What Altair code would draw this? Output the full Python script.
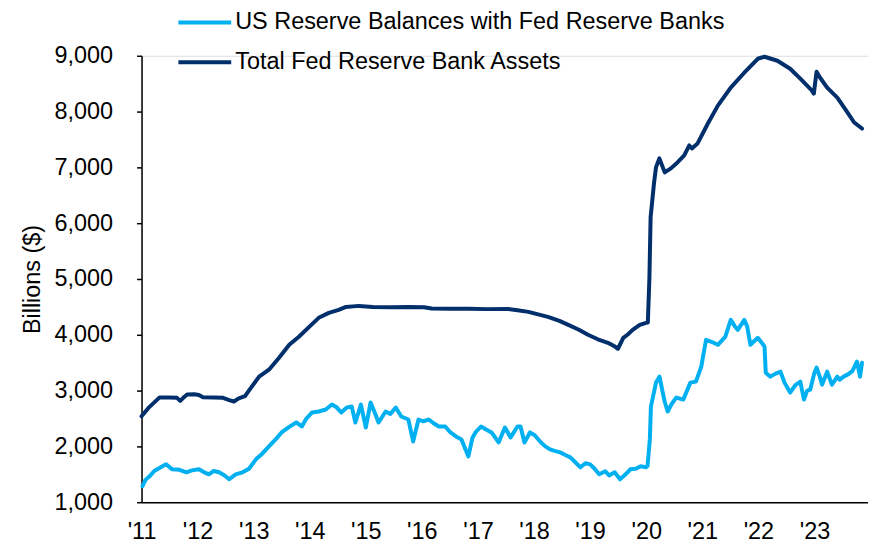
import altair as alt
import pandas as pd

# US Reserve Balances with Fed Reserve Banks (billions $)
res_dates = ["2011-01-07","2011-01-27","2011-02-22","2011-03-25","2011-05-17","2011-06-10","2011-07-20","2011-09-05","2011-10-20","2011-11-25",
             "2012-01-10","2012-02-10","2012-03-15","2012-04-15","2012-05-20","2012-06-25","2012-07-25","2012-09-05","2012-10-20","2012-12-01",
             "2013-01-15","2013-02-25","2013-04-10","2013-05-25","2013-07-01","2013-08-20","2013-10-05","2013-11-10","2013-12-10",
             "2014-01-15","2014-03-01","2014-04-15","2014-05-25","2014-06-25","2014-07-25","2014-09-01","2014-10-01","2014-10-25","2014-11-30",
             "2015-01-01","2015-02-01","2015-03-01","2015-03-25","2015-05-10","2015-06-10","2015-07-15","2015-08-20","2015-10-05","2015-11-05","2015-12-10",
             "2016-01-10","2016-02-15","2016-03-15","2016-04-20","2016-06-01","2016-07-05","2016-08-10","2016-09-15","2016-10-30","2016-11-25","2016-12-15",
             "2017-01-20","2017-02-25","2017-03-30","2017-05-15","2017-06-25","2017-08-01","2017-09-15","2017-10-05","2017-10-30","2017-12-05",
             "2018-01-05","2018-02-15","2018-03-15","2018-04-15","2018-05-15","2018-06-20","2018-07-20","2018-08-25","2018-09-25","2018-10-30","2018-12-01",
             "2019-01-01","2019-01-30","2019-03-01","2019-04-10","2019-05-05","2019-06-10","2019-07-15","2019-08-20","2019-09-20","2019-10-25","2019-11-25","2019-12-31",
             "2020-01-10","2020-01-25","2020-02-01","2020-03-05","2020-03-28","2020-04-18","2020-05-01","2020-05-20","2020-06-15","2020-07-15","2020-08-30","2020-10-15","2020-11-20","2020-12-25",
             "2021-01-25","2021-03-01","2021-04-12","2021-05-30","2021-07-05","2021-08-01","2021-08-20","2021-10-01","2021-10-20","2021-11-10","2021-12-28",
             "2022-01-25","2022-02-10","2022-02-18","2022-03-20","2022-04-20","2022-05-25","2022-06-20","2022-07-27","2022-08-30","2022-10-01","2022-10-25","2022-11-15","2022-12-05","2022-12-30",
             "2023-01-15","2023-02-05","2023-02-20","2023-03-25","2023-04-25","2023-05-30","2023-06-15","2023-07-10","2023-08-05","2023-09-05","2023-10-05","2023-10-25","2023-11-07"]
res_values = [1286,1400,1464,1560,1643,1680,1589,1580,1536,1570,
              1589,1540,1500,1560,1536,1480,1411,1500,1536,1600,
              1768,1870,2000,2130,2250,2350,2429,2357,2500,
              2607,2625,2661,2750,2700,2607,2700,2714,2429,2750,
              2339,2786,2600,2429,2625,2580,2696,2536,2482,2089,2482,
              2450,2482,2420,2357,2357,2250,2179,2125,1821,2150,2250,
              2357,2300,2250,2071,2339,2161,2357,2357,2071,2250,
              2200,2071,2000,1946,1920,1893,1850,1804,1720,1625,1700,
              1679,1600,1500,1554,1480,1536,1411,1500,1589,1600,1643,1625,
              1650,2125,2714,3143,3250,2964,2800,2625,2760,2875,2839,3143,3161,3429,
              3911,3875,3821,3964,4268,4150,4089,4268,4150,3821,3946,
              3850,3786,3321,3250,3300,3339,3143,2964,3100,3161,2839,3000,3018,3300,
              3411,3250,3107,3339,3107,3250,3196,3250,3286,3350,3518,3250,3500]

# Total Fed Reserve Bank Assets (billions $)
tot_dates = ["2011-01-01","2011-02-15","2011-04-27","2011-07-01","2011-08-20","2011-09-10","2011-09-30","2011-10-25","2011-12-10",
             "2012-01-10","2012-02-05","2012-04-15","2012-06-15","2012-07-25","2012-08-25","2012-09-25","2012-11-05","2012-12-05",
             "2013-02-05","2013-04-10","2013-06-15","2013-08-20","2013-10-22","2013-12-28",
             "2014-02-28","2014-05-05","2014-07-08","2014-08-25","2014-11-17",
             "2015-02-15","2015-06-15","2015-10-01","2016-01-15","2016-03-05","2016-07-01","2016-11-01",
             "2017-03-01","2017-07-15","2017-09-15","2017-11-25",
             "2018-04-01","2018-06-15","2018-08-12","2018-10-20","2018-12-18",
             "2019-02-20","2019-04-27","2019-06-05","2019-07-01","2019-08-05","2019-09-05","2019-10-05","2019-11-20","2019-12-31",
             "2020-01-12","2020-01-22","2020-01-30","2020-02-21","2020-03-05","2020-03-27","2020-05-01","2020-06-10","2020-07-23","2020-09-05","2020-10-08","2020-10-25","2020-12-01",
             "2021-02-06","2021-04-12","2021-07-05","2021-10-01","2021-12-28",
             "2022-02-10","2022-05-05","2022-07-27","2022-10-01","2022-12-16","2022-12-28",
             "2023-01-15","2023-02-06","2023-03-25","2023-05-30","2023-08-05","2023-09-17","2023-11-07"]
tot_values = [2540,2690,2875,2875,2870,2815,2870,2930,2935,
              2920,2880,2875,2870,2830,2805,2860,2900,3018,
              3250,3375,3590,3820,3964,4143,
              4304,4393,4446,4500,4518,
              4500,4495,4500,4495,4470,4465,4465,
              4460,4462,4440,4411,
              4321,4250,4179,4090,4000,
              3920,3857,3800,3750,3946,4010,4089,4179,4214,
              4220,5000,6107,6714,7000,7161,6911,6982,7089,7214,7393,7340,7429,
              7786,8107,8429,8696,8946,
              8982,8911,8768,8589,8375,8321,
              8714,8610,8429,8250,7982,7804,7696]

series_names = ["US Reserve Balances with Fed Reserve Banks", "Total Fed Reserve Bank Assets"]
series_colors = ["#00B0F0", "#002F6C"]
year_ticks = [f"{y}-01-01" for y in range(2011, 2024)]
y_ticks = [1000, 2000, 3000, 4000, 5000, 6000, 7000, 8000, 9000]

df = pd.concat([
    pd.DataFrame({"date": res_dates, "value": res_values, "series": series_names[0]}),
    pd.DataFrame({"date": tot_dates, "value": tot_values, "series": series_names[1]}),
])

FONT = "Liberation Sans"
FS = 23.5

chart = alt.Chart(df).mark_line(strokeWidth=4, strokeCap="round", strokeJoin="round").encode(
    x=alt.X("date:T",
            scale=alt.Scale(domain=["2011-01-01", "2023-12-16"], nice=False),
            axis=alt.Axis(title=None, values=year_ticks, format="'%y", ticks=False,
                          labelPadding=17, labelFontSize=FS, labelFont=FONT, labelColor="black",
                          domainColor="black", domainWidth=1.5, grid=False, labelFlush=False,
                          labelOverlap=False)),
    y=alt.Y("value:Q",
            scale=alt.Scale(domain=[1000, 9000], nice=False, zero=False),
            axis=alt.Axis(title="Billions ($)", values=y_ticks, format=",.0f",
                          tickSize=5, tickWidth=1.5, tickColor="black",
                          labelPadding=24, labelFontSize=FS, labelFont=FONT, labelColor="black",
                          domainColor="black", domainWidth=1.5, grid=False,
                          titleFont=FONT, titleFontSize=FS, titleFontWeight="normal", titleColor="black",
                          titleX=-109, titleY=224, titleAngle=-90, titleAlign="center",
                          titleBaseline="middle")),
    color=alt.Color("series:N",
                    scale=alt.Scale(domain=series_names, range=series_colors),
                    legend=alt.Legend(title=None, orient="none", legendX=35, legendY=-62,
                                      symbolType="stroke", symbolSize=2809, symbolStrokeWidth=4,
                                      labelFontSize=FS, labelFont=FONT, labelColor="black",
                                      labelOffset=2, rowPadding=0, padding=0, labelLimit=700)),
    detail="series:N",
).properties(
    width=729, height=448,
    padding={"left": 134, "top": 47, "right": 0, "bottom": 41},
    autosize="none",
).configure_view(stroke=None).configure(background="white")

chart.save("out.html", embed_options={"renderer": "svg", "actions": False})
